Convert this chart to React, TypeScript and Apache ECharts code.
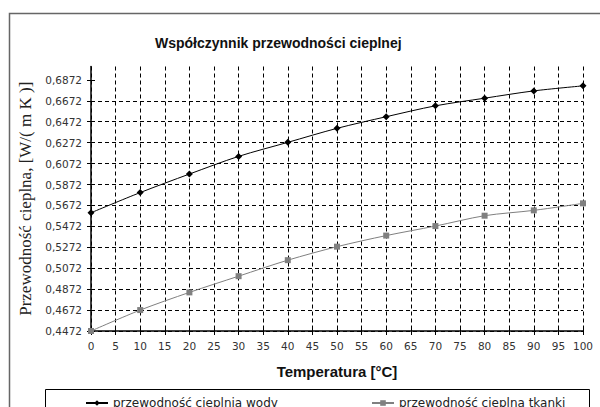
import React, { useEffect, useRef } from 'react';
import * as echarts from 'echarts';

const temperatures = [0, 10, 20, 30, 40, 50, 60, 70, 80, 90, 100];
const waterConductivity = [0.5602, 0.5795, 0.5972, 0.6141, 0.6275, 0.6409, 0.652, 0.6624, 0.6697, 0.6767, 0.6815];
const tissueConductivity = [0.4472, 0.4672, 0.4841, 0.4996, 0.5149, 0.5278, 0.5384, 0.5475, 0.5574, 0.5625, 0.5692];
const yTickValues = [0.4472, 0.4672, 0.4872, 0.5072, 0.5272, 0.5472, 0.5672, 0.5872, 0.6072, 0.6272, 0.6472, 0.6672, 0.6872];
const xTickValues = [0, 5, 10, 15, 20, 25, 30, 35, 40, 45, 50, 55, 60, 65, 70, 75, 80, 85, 90, 95, 100];

const titleText = 'Współczynnik przewodności cieplnej';
const yName = 'Przewodność cieplna, [W/( m K )]';
const xName = 'Temperatura [°C]';
const waterName = 'przewodność cieplnia wody';
const tissueName = 'przewodność cieplna tkanki';

export default function App() {
  const ref = useRef<HTMLDivElement>(null);
  useEffect(() => {
    if (!ref.current) return;
    const chart = echarts.init(ref.current, null, { renderer: 'svg' });
    const tickFont = { fontFamily: 'DejaVu Sans', fontSize: 10.5, color: '#333' };
    const yBase = { type: 'value', min: 0.4472, max: 0.7, interval: 0.02 };
    const xBase = { type: 'value', min: 0, max: 100, interval: 5 };
    chart.setOption({
      animation: false,
      backgroundColor: '#fff',
      title: {
        text: titleText,
        left: 150,
        top: 31,
        textStyle: { fontFamily: 'Liberation Sans, Arial', fontWeight: 'bold', fontSize: 14, color: '#111' },
      },
      grid: { left: 91, right: 17, top: 66.5, bottom: 76, containLabel: false },
      legend: [
        {
          data: [waterName], left: 80, top: 392, itemWidth: 22, itemHeight: 7, itemGap: 5,
          textStyle: { fontFamily: 'DejaVu Sans', fontSize: 12, color: '#222' },
        },
        {
          data: [tissueName], left: 366, top: 392, itemWidth: 22, itemHeight: 7, itemGap: 5,
          textStyle: { fontFamily: 'DejaVu Sans', fontSize: 12, color: '#222' },
        },
      ],
      xAxis: [
        {
          ...xBase,
          name: xName,
          nameLocation: 'middle',
          nameGap: 33,
          nameTextStyle: { fontFamily: 'Liberation Sans, Arial', fontWeight: 'bold', fontSize: 15, color: '#111' },
          axisLine: { show: true, lineStyle: { color: '#000', width: 1.5 } },
          axisTick: { show: true, length: 4, lineStyle: { color: '#000' } },
          axisLabel: { margin: 9, ...tickFont },
          splitLine: { show: true, lineStyle: { color: '#000', type: [4, 3], width: 1 } },
        },
        {
          ...xBase,
          position: 'bottom',
          axisLine: { show: false },
          axisTick: { show: true, inside: true, length: 4, lineStyle: { color: '#000' } },
          axisLabel: { show: false },
          splitLine: { show: false },
        },
      ],
      yAxis: [
        {
          ...yBase,
          name: yName,
          nameLocation: 'middle',
          nameGap: 50,
          nameTextStyle: { fontFamily: 'Liberation Serif, Times New Roman, serif', fontSize: 17, color: '#222' },
          axisLine: { show: true, lineStyle: { color: '#000', width: 1.5 } },
          axisTick: { show: true, length: 4, customValues: yTickValues, lineStyle: { color: '#000' } },
          axisLabel: {
            margin: 9,
            showMaxLabel: false,
            formatter: (v: number) => (yTickValues.some((t) => Math.abs(t - v) < 1e-6) ? v.toFixed(4).replace('.', ',') : ''),
            ...tickFont,
          },
          splitLine: { show: true, showMaxLine: false, lineStyle: { color: '#000', type: [4, 3], width: 1 } },
        },
        {
          ...yBase,
          position: 'left',
          axisLine: { show: false },
          axisTick: { show: true, inside: true, length: 4, customValues: yTickValues, lineStyle: { color: '#000' } },
          axisLabel: { show: false },
          splitLine: { show: false },
        },
      ],
      series: [
        {
          name: waterName,
          type: 'line',
          xAxisIndex: 0,
          yAxisIndex: 0,
          data: temperatures.map((t, i) => [t, waterConductivity[i]]),
          smooth: 0.3,
          symbol: 'diamond',
          symbolSize: 7,
          clip: false,
          lineStyle: { color: '#000', width: 1 },
          itemStyle: { color: '#000' },
        },
        {
          name: tissueName,
          type: 'line',
          xAxisIndex: 0,
          yAxisIndex: 0,
          data: temperatures.map((t, i) => [t, tissueConductivity[i]]),
          smooth: 0.3,
          symbol: 'rect',
          symbolSize: 6,
          clip: false,
          lineStyle: { color: '#808080', width: 1 },
          itemStyle: { color: '#808080' },
        },
      ],
      graphic: [
        {
          type: 'rect',
          shape: { x: 9.5, y: 13.5, width: 700, height: 500 },
          style: { fill: 'none', stroke: '#666', lineWidth: 1.5 },
          silent: true,
          z: -1,
        },
        {
          type: 'rect',
          shape: { x: 45.5, y: 389.5, width: 544, height: 40 },
          style: { fill: 'none', stroke: '#000', lineWidth: 1 },
          silent: true,
        },
      ],
    });
    return () => chart.dispose();
  }, []);
  return <div ref={ref} style={{ position: 'fixed', left: 0, top: 0, width: 600, height: 407 }} />;
}
